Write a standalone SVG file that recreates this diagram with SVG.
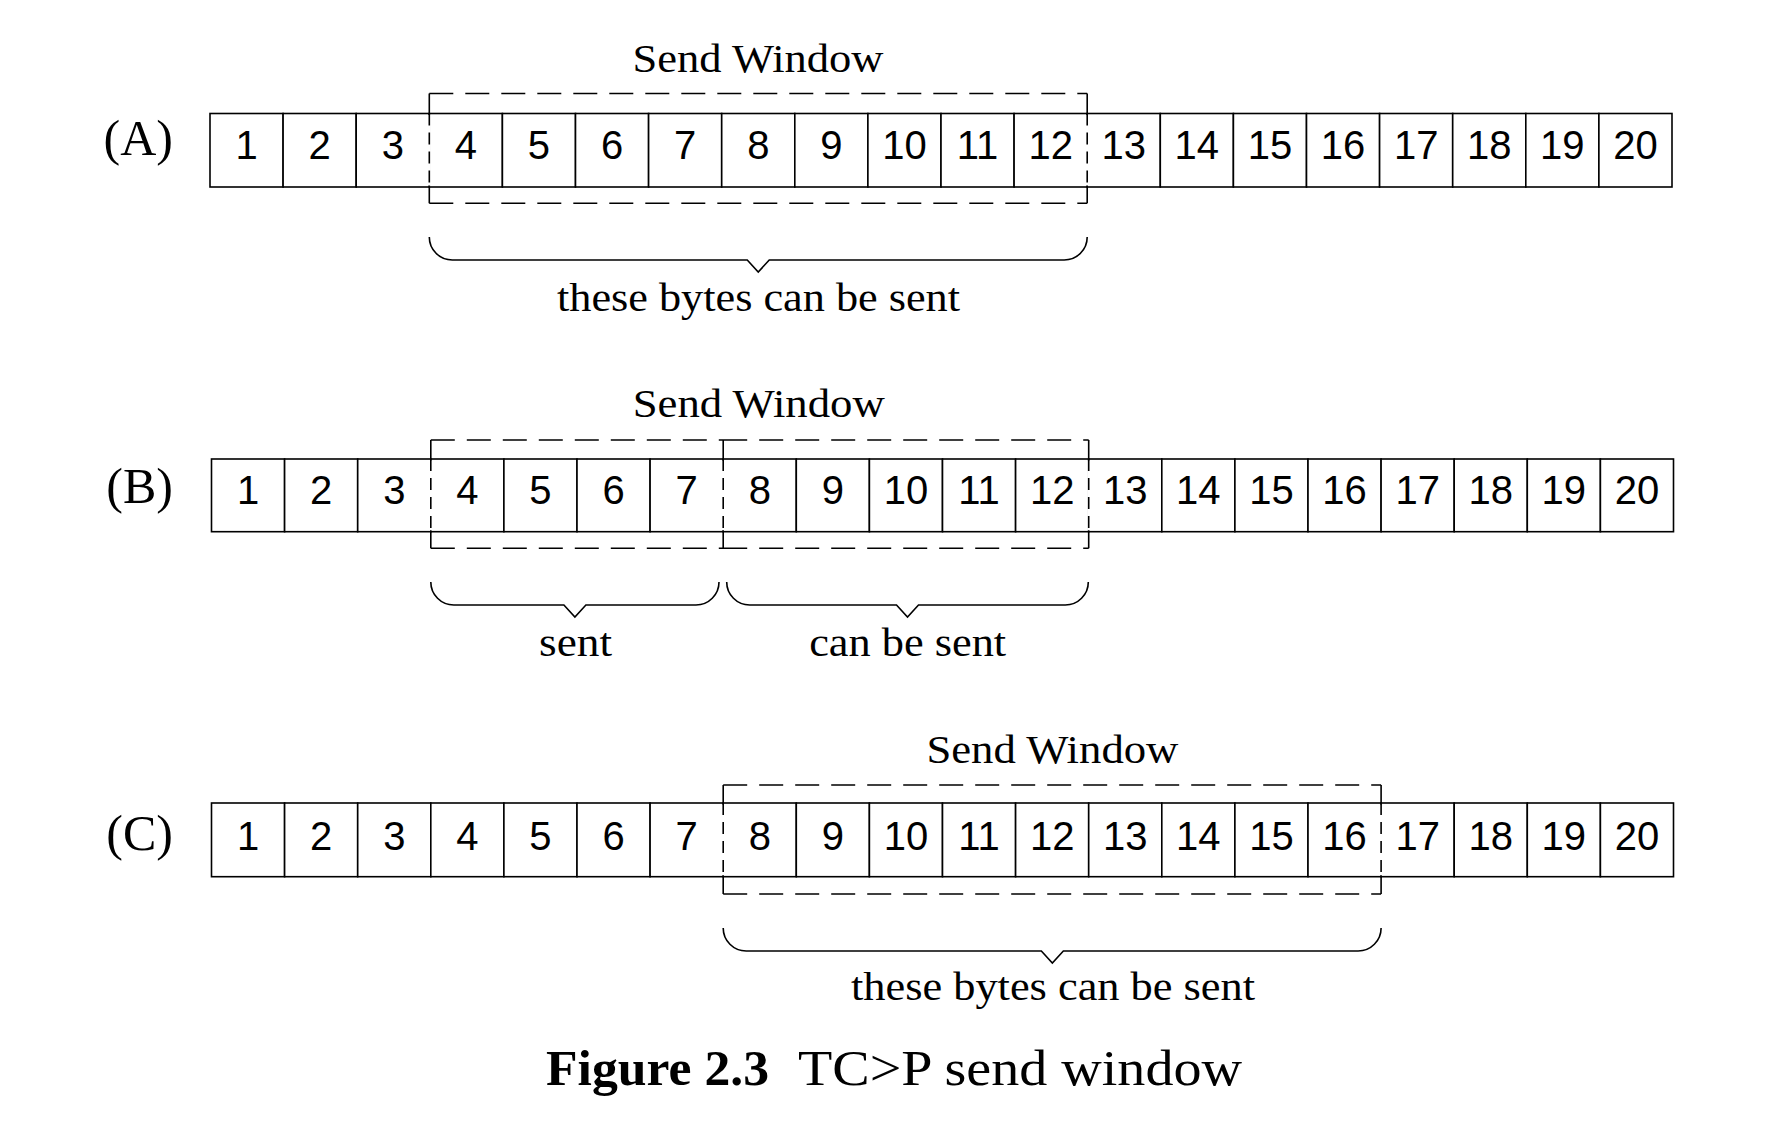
<svg xmlns="http://www.w3.org/2000/svg" width="1780" height="1148" viewBox="0 0 1780 1148">
<style>
.cell{fill:#fff;stroke:#000;stroke-width:1.6}
.num{font-family:"Liberation Sans",Arial,sans-serif;font-size:40px;text-anchor:middle;fill:#000}
.serif{font-family:"Liberation Serif","Times New Roman",serif;fill:#000}
.lbl{font-size:40px;text-anchor:middle}
.tag{font-size:50px;text-anchor:end}
.wout{stroke:#fff;stroke-width:3;fill:none}
.dash{stroke:#000;stroke-width:1.6;fill:none;stroke-dasharray:24 12}
.vdash{stroke:#000;stroke-width:1.6;fill:none;stroke-dasharray:12 7}
.solid{stroke:#000;stroke-width:1.6;fill:none}
.brace{stroke:#000;stroke-width:1.6;fill:none;stroke-linejoin:miter}
</style>

<!-- Row A -->
<g id="rowA" transform="translate(210,113.5)">
<g id="a1"><rect class="cell" x="0" y="0" width="73.1" height="73.5"/><text class="num" x="36.55" y="45.5">1</text></g>
<g id="a2"><rect class="cell" x="73.1" y="0" width="73.1" height="73.5"/><text class="num" x="109.65" y="45.5">2</text></g>
<g id="a3"><rect class="cell" x="146.2" y="0" width="73.1" height="73.5"/><text class="num" x="182.75" y="45.5">3</text></g>
<g id="a4"><rect class="cell" x="219.3" y="0" width="73.1" height="73.5"/><text class="num" x="255.85" y="45.5">4</text></g>
<g id="a5"><rect class="cell" x="292.4" y="0" width="73.1" height="73.5"/><text class="num" x="328.95" y="45.5">5</text></g>
<g id="a6"><rect class="cell" x="365.5" y="0" width="73.1" height="73.5"/><text class="num" x="402.05" y="45.5">6</text></g>
<g id="a7"><rect class="cell" x="438.6" y="0" width="73.1" height="73.5"/><text class="num" x="475.15" y="45.5">7</text></g>
<g id="a8"><rect class="cell" x="511.7" y="0" width="73.1" height="73.5"/><text class="num" x="548.25" y="45.5">8</text></g>
<g id="a9"><rect class="cell" x="584.8" y="0" width="73.1" height="73.5"/><text class="num" x="621.35" y="45.5">9</text></g>
<g id="a10"><rect class="cell" x="657.9" y="0" width="73.1" height="73.5"/><text class="num" x="694.45" y="45.5">10</text></g>
<g id="a11"><rect class="cell" x="731" y="0" width="73.1" height="73.5"/><text class="num" x="767.55" y="45.5">11</text></g>
<g id="a12"><rect class="cell" x="804.1" y="0" width="73.1" height="73.5"/><text class="num" x="840.65" y="45.5">12</text></g>
<g id="a13"><rect class="cell" x="877.2" y="0" width="73.1" height="73.5"/><text class="num" x="913.75" y="45.5">13</text></g>
<g id="a14"><rect class="cell" x="950.3" y="0" width="73.1" height="73.5"/><text class="num" x="986.85" y="45.5">14</text></g>
<g id="a15"><rect class="cell" x="1023.4" y="0" width="73.1" height="73.5"/><text class="num" x="1059.95" y="45.5">15</text></g>
<g id="a16"><rect class="cell" x="1096.5" y="0" width="73.1" height="73.5"/><text class="num" x="1133.05" y="45.5">16</text></g>
<g id="a17"><rect class="cell" x="1169.6" y="0" width="73.1" height="73.5"/><text class="num" x="1206.15" y="45.5">17</text></g>
<g id="a18"><rect class="cell" x="1242.7" y="0" width="73.1" height="73.5"/><text class="num" x="1279.25" y="45.5">18</text></g>
<g id="a19"><rect class="cell" x="1315.8" y="0" width="73.1" height="73.5"/><text class="num" x="1352.35" y="45.5">19</text></g>
<g id="a20"><rect class="cell" x="1388.9" y="0" width="73.1" height="73.5"/><text class="num" x="1425.45" y="45.5">20</text></g>
<g id="windowA">
<path class="wout" d="M219.3,1.5V72M877.2,1.5V72"/>
<path class="dash" d="M219.3,-20H877.2M219.3,89.8H877.2"/>
<path class="solid" d="M219.3,-20V0M219.3,73.5V89.8M877.2,-20V0M877.2,73.5V89.8"/>
<path class="vdash" d="M219.3,0V73.5M877.2,0V73.5"/>
</g>
</g>
<g id="labelsA">
<text class="serif tag" x="173" y="155">(A)</text>
<text class="serif lbl" x="758" y="71.5" textLength="251" lengthAdjust="spacingAndGlyphs">Send Window</text>
<text class="serif lbl" x="758.5" y="310.5" textLength="403" lengthAdjust="spacingAndGlyphs">these bytes can be sent</text>
</g>

<!-- Row B -->
<g id="rowB" transform="translate(211.5,459)">
<g id="b1"><rect class="cell" x="0" y="0" width="73.1" height="72.7"/><text class="num" x="36.55" y="45">1</text></g>
<g id="b2"><rect class="cell" x="73.1" y="0" width="73.1" height="72.7"/><text class="num" x="109.65" y="45">2</text></g>
<g id="b3"><rect class="cell" x="146.2" y="0" width="73.1" height="72.7"/><text class="num" x="182.75" y="45">3</text></g>
<g id="b4"><rect class="cell" x="219.3" y="0" width="73.1" height="72.7"/><text class="num" x="255.85" y="45">4</text></g>
<g id="b5"><rect class="cell" x="292.4" y="0" width="73.1" height="72.7"/><text class="num" x="328.95" y="45">5</text></g>
<g id="b6"><rect class="cell" x="365.5" y="0" width="73.1" height="72.7"/><text class="num" x="402.05" y="45">6</text></g>
<g id="b7"><rect class="cell" x="438.6" y="0" width="73.1" height="72.7"/><text class="num" x="475.15" y="45">7</text></g>
<g id="b8"><rect class="cell" x="511.7" y="0" width="73.1" height="72.7"/><text class="num" x="548.25" y="45">8</text></g>
<g id="b9"><rect class="cell" x="584.8" y="0" width="73.1" height="72.7"/><text class="num" x="621.35" y="45">9</text></g>
<g id="b10"><rect class="cell" x="657.9" y="0" width="73.1" height="72.7"/><text class="num" x="694.45" y="45">10</text></g>
<g id="b11"><rect class="cell" x="731" y="0" width="73.1" height="72.7"/><text class="num" x="767.55" y="45">11</text></g>
<g id="b12"><rect class="cell" x="804.1" y="0" width="73.1" height="72.7"/><text class="num" x="840.65" y="45">12</text></g>
<g id="b13"><rect class="cell" x="877.2" y="0" width="73.1" height="72.7"/><text class="num" x="913.75" y="45">13</text></g>
<g id="b14"><rect class="cell" x="950.3" y="0" width="73.1" height="72.7"/><text class="num" x="986.85" y="45">14</text></g>
<g id="b15"><rect class="cell" x="1023.4" y="0" width="73.1" height="72.7"/><text class="num" x="1059.95" y="45">15</text></g>
<g id="b16"><rect class="cell" x="1096.5" y="0" width="73.1" height="72.7"/><text class="num" x="1133.05" y="45">16</text></g>
<g id="b17"><rect class="cell" x="1169.6" y="0" width="73.1" height="72.7"/><text class="num" x="1206.15" y="45">17</text></g>
<g id="b18"><rect class="cell" x="1242.7" y="0" width="73.1" height="72.7"/><text class="num" x="1279.25" y="45">18</text></g>
<g id="b19"><rect class="cell" x="1315.8" y="0" width="73.1" height="72.7"/><text class="num" x="1352.35" y="45">19</text></g>
<g id="b20"><rect class="cell" x="1388.9" y="0" width="73.1" height="72.7"/><text class="num" x="1425.45" y="45">20</text></g>
<g id="windowB">
<path class="wout" d="M219.3,1.5V71.2M511.7,1.5V71.2M877.2,1.5V71.2"/>
<path class="dash" d="M219.3,-19H511.7M511.7,-19H877.2M219.3,89.3H511.7M511.7,89.3H877.2"/>
<path class="solid" d="M219.3,-19V0M219.3,72.7V89.3M511.7,-19V0M511.7,72.7V89.3M877.2,-19V0M877.2,72.7V89.3"/>
<path class="vdash" d="M219.3,0V72.7M511.7,0V72.7M877.2,0V72.7"/>
</g>
</g>
<g id="labelsB">
<text class="serif tag" x="173" y="502.7">(B)</text>
<text class="serif lbl" x="758.7" y="416.7" textLength="252" lengthAdjust="spacingAndGlyphs">Send Window</text>
<text class="serif lbl" x="575.5" y="656" textLength="73" lengthAdjust="spacingAndGlyphs">sent</text>
<text class="serif lbl" x="907.7" y="656" textLength="197" lengthAdjust="spacingAndGlyphs">can be sent</text>
</g>

<!-- Row C -->
<g id="rowC" transform="translate(211.5,803)">
<g id="c1"><rect class="cell" x="0" y="0" width="73.1" height="73.7"/><text class="num" x="36.55" y="46.5">1</text></g>
<g id="c2"><rect class="cell" x="73.1" y="0" width="73.1" height="73.7"/><text class="num" x="109.65" y="46.5">2</text></g>
<g id="c3"><rect class="cell" x="146.2" y="0" width="73.1" height="73.7"/><text class="num" x="182.75" y="46.5">3</text></g>
<g id="c4"><rect class="cell" x="219.3" y="0" width="73.1" height="73.7"/><text class="num" x="255.85" y="46.5">4</text></g>
<g id="c5"><rect class="cell" x="292.4" y="0" width="73.1" height="73.7"/><text class="num" x="328.95" y="46.5">5</text></g>
<g id="c6"><rect class="cell" x="365.5" y="0" width="73.1" height="73.7"/><text class="num" x="402.05" y="46.5">6</text></g>
<g id="c7"><rect class="cell" x="438.6" y="0" width="73.1" height="73.7"/><text class="num" x="475.15" y="46.5">7</text></g>
<g id="c8"><rect class="cell" x="511.7" y="0" width="73.1" height="73.7"/><text class="num" x="548.25" y="46.5">8</text></g>
<g id="c9"><rect class="cell" x="584.8" y="0" width="73.1" height="73.7"/><text class="num" x="621.35" y="46.5">9</text></g>
<g id="c10"><rect class="cell" x="657.9" y="0" width="73.1" height="73.7"/><text class="num" x="694.45" y="46.5">10</text></g>
<g id="c11"><rect class="cell" x="731" y="0" width="73.1" height="73.7"/><text class="num" x="767.55" y="46.5">11</text></g>
<g id="c12"><rect class="cell" x="804.1" y="0" width="73.1" height="73.7"/><text class="num" x="840.65" y="46.5">12</text></g>
<g id="c13"><rect class="cell" x="877.2" y="0" width="73.1" height="73.7"/><text class="num" x="913.75" y="46.5">13</text></g>
<g id="c14"><rect class="cell" x="950.3" y="0" width="73.1" height="73.7"/><text class="num" x="986.85" y="46.5">14</text></g>
<g id="c15"><rect class="cell" x="1023.4" y="0" width="73.1" height="73.7"/><text class="num" x="1059.95" y="46.5">15</text></g>
<g id="c16"><rect class="cell" x="1096.5" y="0" width="73.1" height="73.7"/><text class="num" x="1133.05" y="46.5">16</text></g>
<g id="c17"><rect class="cell" x="1169.6" y="0" width="73.1" height="73.7"/><text class="num" x="1206.15" y="46.5">17</text></g>
<g id="c18"><rect class="cell" x="1242.7" y="0" width="73.1" height="73.7"/><text class="num" x="1279.25" y="46.5">18</text></g>
<g id="c19"><rect class="cell" x="1315.8" y="0" width="73.1" height="73.7"/><text class="num" x="1352.35" y="46.5">19</text></g>
<g id="c20"><rect class="cell" x="1388.9" y="0" width="73.1" height="73.7"/><text class="num" x="1425.45" y="46.5">20</text></g>
<g id="windowC">
<path class="wout" d="M511.7,1.5V72.2M1169.6,1.5V72.2"/>
<path class="dash" d="M511.7,-18H1169.6M511.7,91H1169.6"/>
<path class="solid" d="M511.7,-18V0M511.7,73.7V91M1169.6,-18V0M1169.6,73.7V91"/>
<path class="vdash" d="M511.7,0V73.7M1169.6,0V73.7"/>
</g>
</g>
<g id="labelsC">
<text class="serif tag" x="173" y="850">(C)</text>
<text class="serif lbl" x="1052.4" y="762.5" textLength="252" lengthAdjust="spacingAndGlyphs">Send Window</text>
<text class="serif lbl" x="1053" y="1000" textLength="404" lengthAdjust="spacingAndGlyphs">these bytes can be sent</text>
</g>

<!-- Braces -->
<g id="connectors">
<path class="brace" d="M429.3,237A23,23 0 0 0 452.3,260H747.25L758.25,272L769.25,260H1064.2A23,23 0 0 0 1087.2,237"/>
<path class="brace" d="M430.8,582A23,23 0 0 0 453.8,605H563.9L574.9,617L585.9,605H696A23,23 0 0 0 719,582"/>
<path class="brace" d="M726.7,582A23,23 0 0 0 749.7,605H896.5L907.5,617L918.5,605H1065.3A23,23 0 0 0 1088.3,582"/>
<path class="brace" d="M723.2,928A23,23 0 0 0 746.2,951H1041.35L1052.35,963L1063.35,951H1358.1A23,23 0 0 0 1381.1,928"/>
</g>

<!-- Caption -->
<g id="caption">
<text class="serif" x="546" y="1085" font-size="50" font-weight="bold" textLength="223" lengthAdjust="spacingAndGlyphs">Figure 2.3</text>
<text class="serif" x="798" y="1085" font-size="50" textLength="444" lengthAdjust="spacingAndGlyphs">TC&gt;P send window</text>
</g>
</svg>
